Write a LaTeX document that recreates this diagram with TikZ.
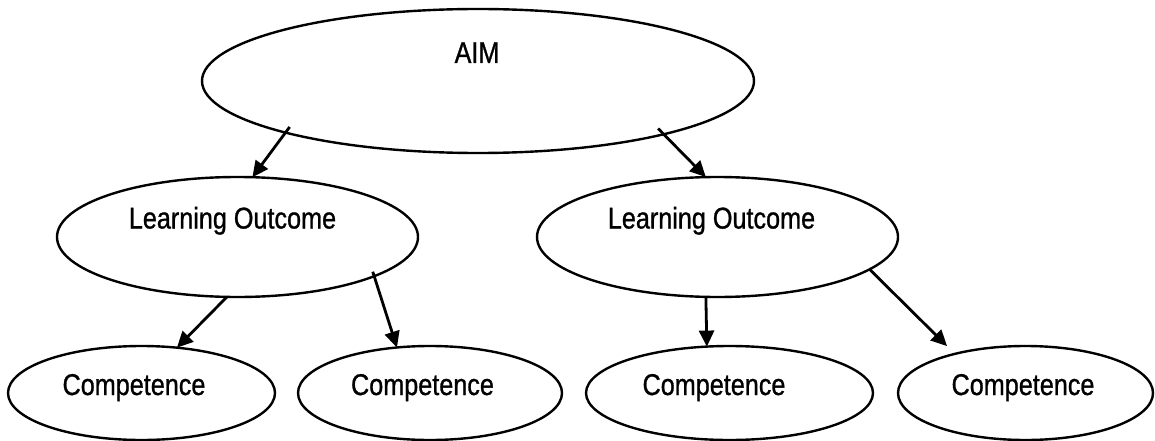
\documentclass[tikz,border=0pt]{standalone}
\usepackage{fontspec}
\setmainfont{Liberation Sans}[FakeStretch=0.84,FakeBold=0.9]
\usetikzlibrary{shapes.geometric,arrows.meta}
\begin{document}
\begin{tikzpicture}[x=1pt,y=-1pt,
  oval/.style={draw, ellipse, line width=2.4pt, inner sep=0pt, outer sep=0pt},
  lbl/.style={font=\fontsize{30}{34}\selectfont, anchor=base, inner sep=0pt},
  arr/.style={line width=2.8pt, -{Triangle[length=16pt,width=15pt]}}]
\useasboundingbox (0,0) rectangle (1155,441);
\fill[white] (0,0) rectangle (1155,441);
% ellipses
\node[oval, minimum width=552pt, minimum height=144pt] (aim) at (478,81) {};
\node[lbl] (aimt) at (477,63) {AIM};
\node[oval, minimum width=361pt, minimum height=120pt] (lo1) at (237.5,237) {};
\node[lbl] (lo1t) at (232.5,228.5) {Learning Outcome};
\node[oval, minimum width=361pt, minimum height=120pt] (lo2) at (717.5,237) {};
\node[lbl] (lo2t) at (711.5,228.5) {Learning Outcome};
\node[oval, minimum width=267pt, minimum height=94pt] (c1) at (141.5,393) {};
\node[lbl] (c1t) at (134,395) {Competence};
\node[oval, minimum width=264pt, minimum height=94pt] (c2) at (430,393) {};
\node[lbl] (c2t) at (422.5,395) {Competence};
\node[oval, minimum width=287pt, minimum height=94pt] (c3) at (729.5,393) {};
\node[lbl] (c3t) at (714,395) {Competence};
\node[oval, minimum width=255pt, minimum height=94pt] (c4) at (1025.5,393) {};
\node[lbl] (c4t) at (1023,395) {Competence};
% arrows
\draw[arr, shorten <=-7pt] (aim.195.86) -- (lo1.76.6);
\draw[arr, shorten <=-8pt] (aim.344.05) -- (lo2.101.6);
\draw[arr] (lo1.260.07) -- (c1.52.75);
\draw[arr, shorten <=-4.7pt] (lo1.-16.94) -- (c2.126.87);
\draw[arr] (lo2.259.15) -- (c3.116.08);
\draw[arr, shorten >=11pt] (lo2.-12.06) -- (c4.151.8);
\end{tikzpicture}
\end{document}
